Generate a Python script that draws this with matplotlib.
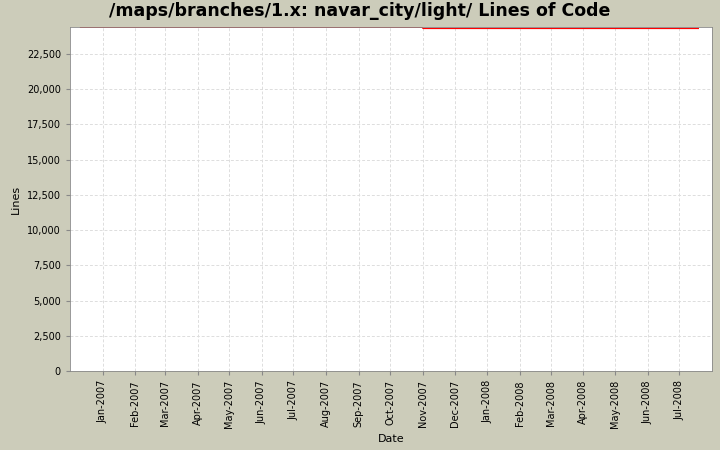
import matplotlib
matplotlib.use("Agg")
import matplotlib.pyplot as plt
import matplotlib.dates as mdates
from datetime import datetime

dates = [datetime(2006,12,11), datetime(2007,10,31), datetime(2007,11,1), datetime(2008,7,19)]
lines = [24400, 24400, 24320, 24320]
tick_labels = ["Jan-2007","Feb-2007","Mar-2007","Apr-2007","May-2007","Jun-2007","Jul-2007","Aug-2007","Sep-2007","Oct-2007","Nov-2007","Dec-2007","Jan-2008","Feb-2008","Mar-2008","Apr-2008","May-2008","Jun-2008","Jul-2008"]
ticks = [datetime(2007+(i//12), i%12+1, 1) for i in range(19)]

fig = plt.figure(figsize=(7.2,4.5), dpi=100, facecolor="#CCCCBA")
ax = fig.add_axes([70/720, 1-371/450, 642/720, 344/450])
ax.set_facecolor("white")
ax.plot(dates, lines, color="#FF0000", lw=1)
ax.set_xlim(datetime(2006,12,1), datetime(2008,8,1))
ax.set_ylim(0, 24420)
ax.set_yticks(range(0, 22501, 2500))
ax.set_yticklabels([f"{v:,}" for v in range(0,22501,2500)], fontsize=7)
ax.set_xticks(ticks)
ax.set_xticklabels(tick_labels, rotation=90, fontsize=7)
ax.grid(True, color="#DDDDDD", linestyle=(0,(3,2)), lw=0.7)
for s in ax.spines.values():
    s.set_color("#888888"); s.set_linewidth(0.6)
ax.tick_params(length=3, color="#888888")
ax.set_ylabel("Lines", fontsize=8)
ax.set_xlabel("Date", fontsize=8)
fig.suptitle("/maps/branches/1.x: navar_city/light/ Lines of Code", fontsize=12.5, fontweight="bold", y=0.995)
fig.savefig("out.png", dpi=100, facecolor=fig.get_facecolor())
